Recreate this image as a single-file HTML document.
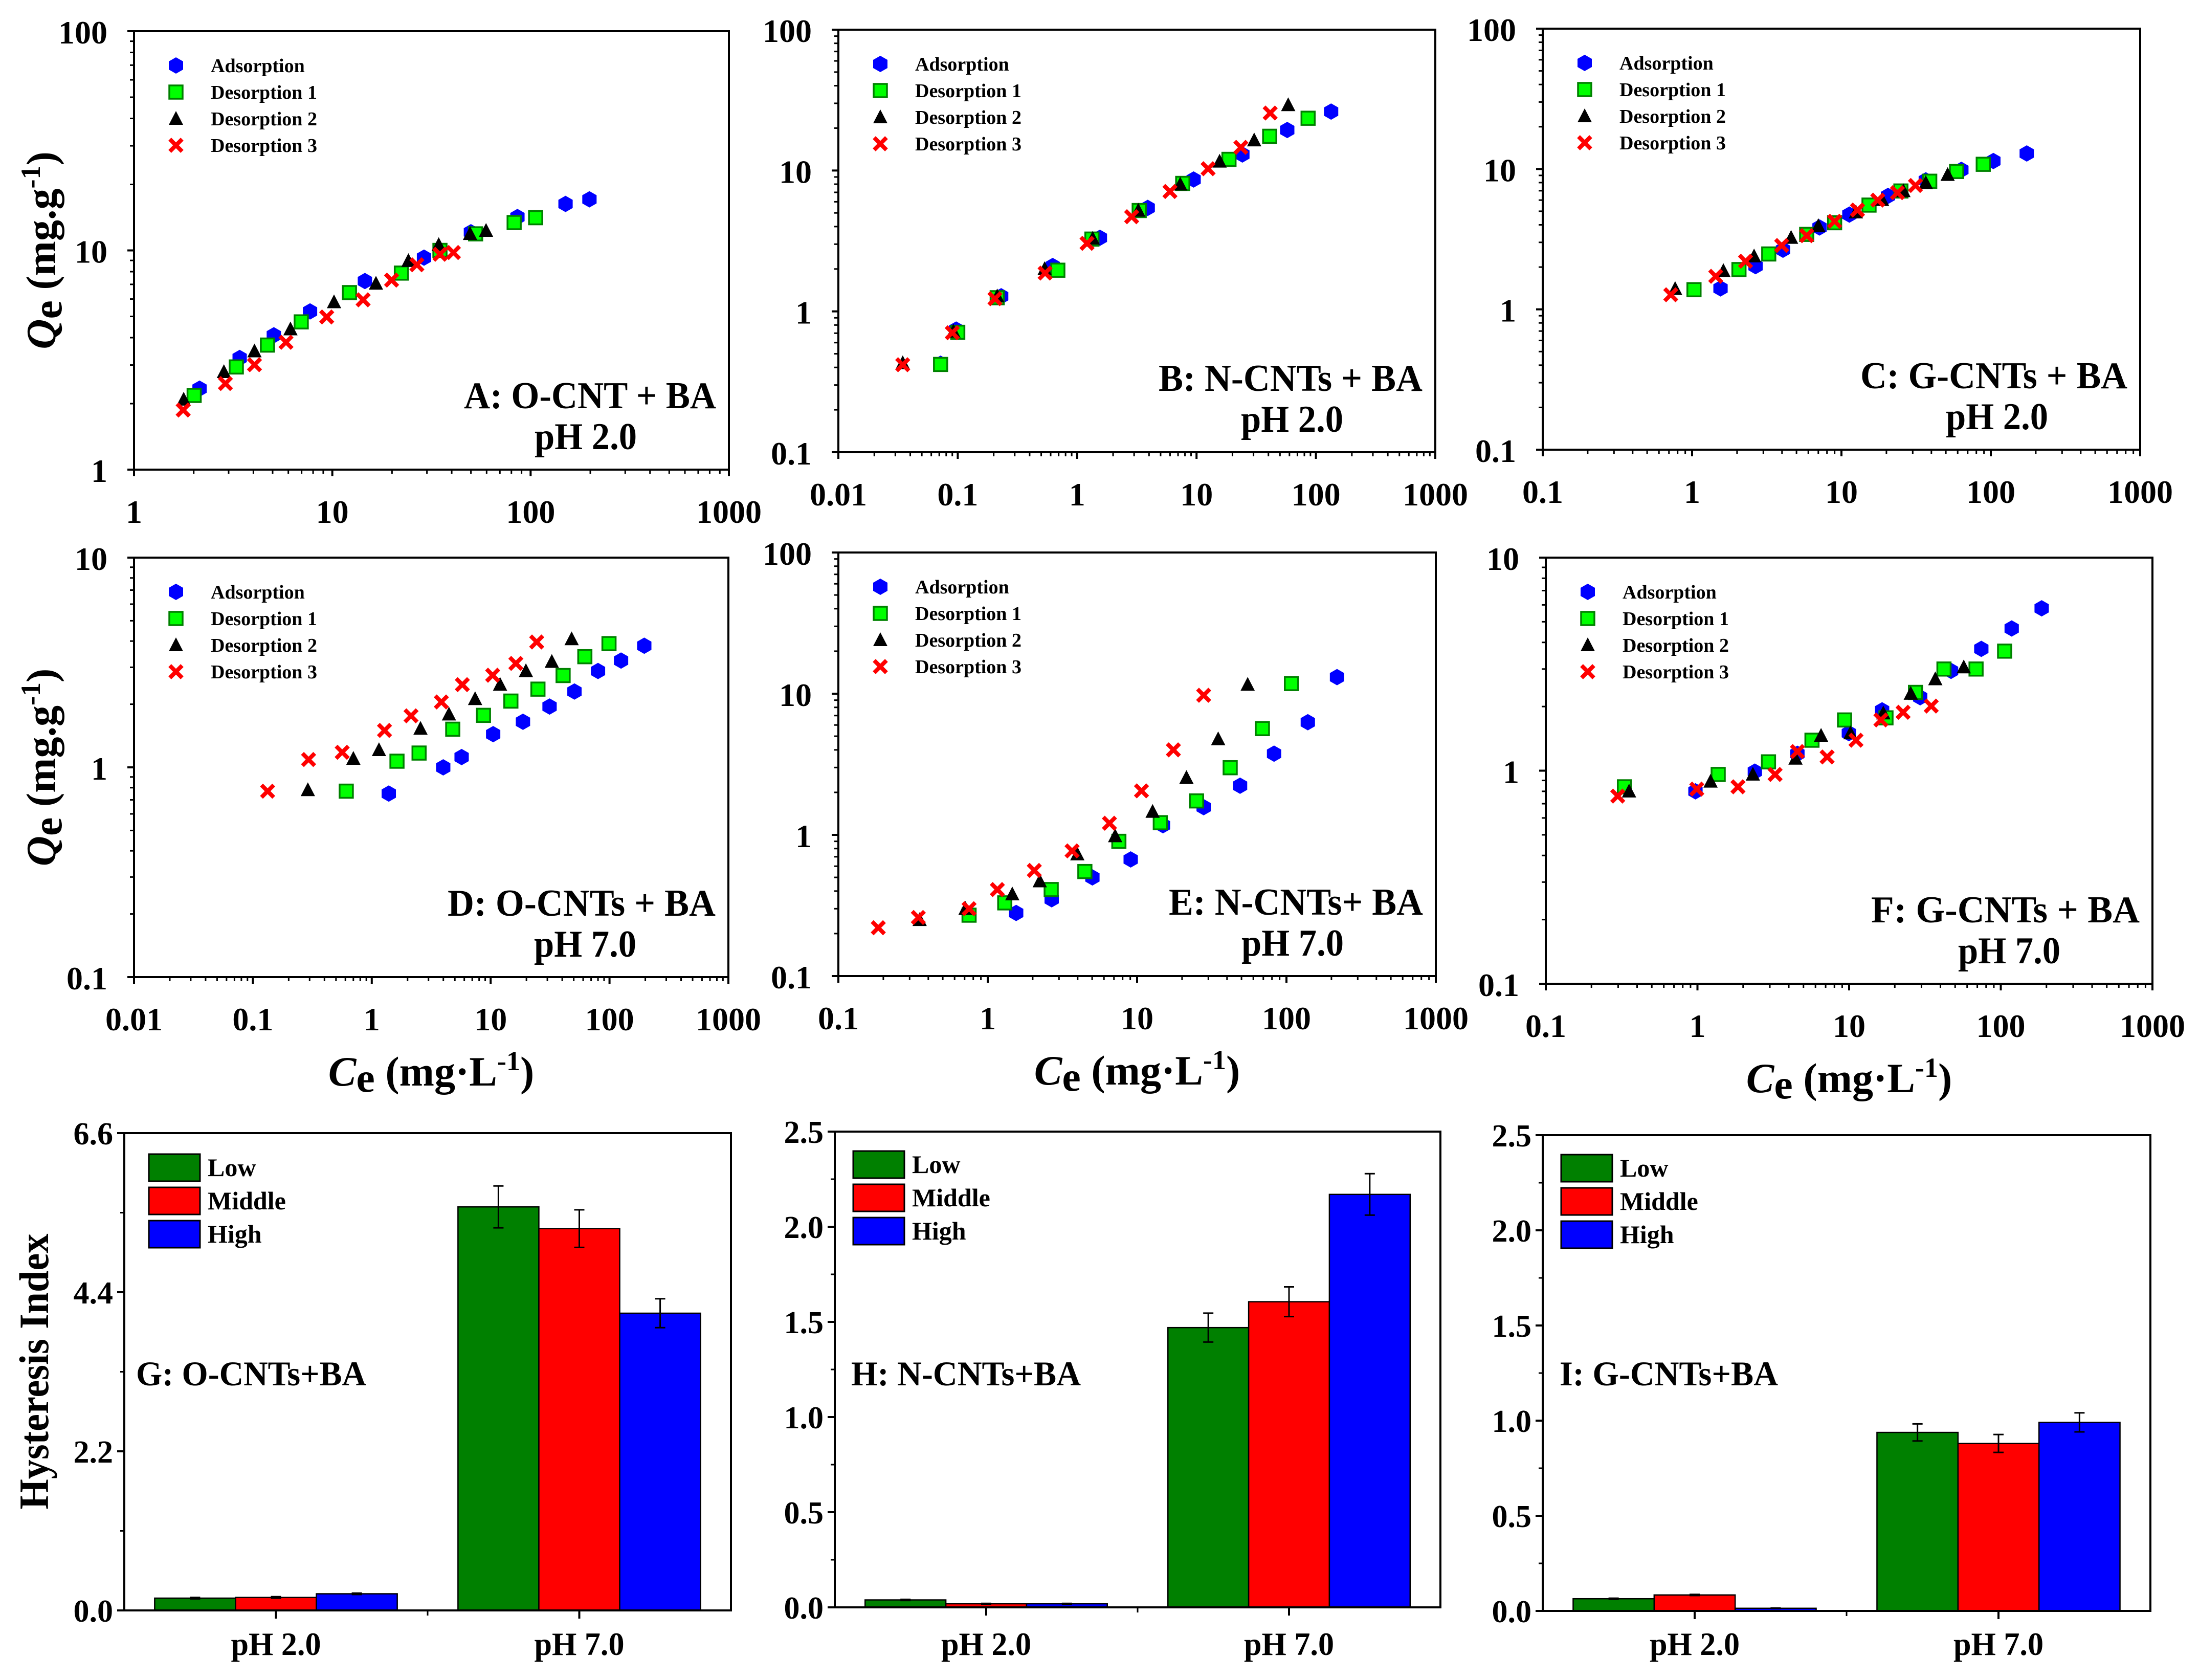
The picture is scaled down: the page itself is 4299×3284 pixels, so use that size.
<!DOCTYPE html>
<html><head><meta charset="utf-8"><title>Adsorption-desorption isotherms and hysteresis index</title>
<style>
html,body{margin:0;padding:0;background:#fff;}
svg{display:block;font-family:"Liberation Serif","Times New Roman",serif;font-weight:bold;}
</style></head>
<body>
<svg id="chart" xmlns="http://www.w3.org/2000/svg" width="4299" height="3284" viewBox="0 0 4299 3284">
<rect x="0" y="0" width="4299" height="3284" fill="#fff"/>
</svg>
<script>
// ---- Panel A: O-CNT pH 2.0 ----
const A_ads_x=[2.14,3.41,5.07,7.72,14.6,29,50,85.8,150,198];
const A_ads_y=[2.34,3.23,4.10,5.27,7.25,9.27,12.1,14.2,16.3,17.1];
const A_d1_x=[2.01,3.28,4.71,6.97,12.2,22.3,34.9,52.8,82.6,106];
const A_d1_y=[2.18,2.94,3.70,4.72,6.42,7.88,10.0,11.9,13.4,14.1];
const A_d2_x=[1.78,2.84,4.05,6.15,10.2,16.6,24.2,34.4,49.5,59.6];
const A_d2_y=[2.09,2.79,3.47,4.37,5.81,7.06,8.96,10.6,11.9,12.3];
const A_d3_x=[1.77,2.89,4.05,5.84,9.37,14.3,19.9,26.7,34.9,40.8];
const A_d3_y=[1.87,2.47,3.01,3.81,4.97,5.95,7.32,8.6,9.6,9.78];
// ---- Panel B: N-CNTs pH 2.0 ----
const B_ads_x=[0.0718,0.097,0.231,0.624,1.55,3.9,9.45,24.2,57.5,134];
const B_ads_y=[0.425,0.743,1.28,2.10,3.33,5.43,8.64,13.0,19.4,26.2];
const B_d1_x=[0.0718,0.1,0.214,0.689,1.33,3.31,7.66,18.7,41,86];
const B_d1_y=[0.42,0.71,1.25,1.96,3.26,5.2,8.1,12,17.5,23.5];
const B_d2_x=[0.0346,0.092,0.214,0.534,1.35,3.25,7.3,15.6,30.4,58.6];
const B_d2_y=[0.43,0.72,1.28,2.0,3.29,5.2,7.98,11.6,16.4,29.2];
const B_d3_x=[0.0346,0.09,0.205,0.539,1.21,2.86,5.99,12.5,23.5,41.4];
const B_d3_y=[0.418,0.705,1.23,1.87,3.04,4.7,7.1,10.3,14.6,25.6];
// ---- Panel C: G-CNTs pH 2.0 ----
const C_ads_x=[1.55,2.66,4.06,7.13,11.3,20.5,36.7,63.5,104,174];
const C_ads_y=[1.41,2.03,2.66,3.83,4.73,6.43,8.3,9.86,11.4,12.9];
const C_d1_x=[1.03,2.06,3.26,5.85,9.0,15.3,25,39,59,89];
const C_d1_y=[1.38,1.92,2.48,3.42,4.14,5.53,6.97,8.18,9.6,10.8];
const C_d2_x=[0.77,1.62,2.6,4.6,7.0,12.5,18.7,26,36.7,51.4];
const C_d2_y=[1.4,1.88,2.39,3.24,3.93,4.92,6.03,6.97,7.96,9.1];
const C_d3_x=[0.72,1.44,2.28,3.98,5.85,9.0,12.8,17.5,23.7,31.3];
const C_d3_y=[1.27,1.72,2.2,2.85,3.35,4.24,5.1,6.0,6.78,7.63];
// ---- Panel D: O-CNTs pH 7.0 ----
const D_ads_x=[1.39,3.99,5.7,10.5,18.7,31.3,50.7,80,125,196];
const D_ads_y=[0.75,1.0,1.12,1.44,1.65,1.95,2.3,2.88,3.23,3.8];
const D_d1_x=[0.61,1.63,2.5,4.8,8.7,14.8,25,40.7,62,99];
const D_d1_y=[0.77,1.07,1.17,1.52,1.77,2.07,2.36,2.74,3.37,3.89];
const D_d2_x=[0.29,0.70,1.15,2.57,4.46,7.4,12,19.8,32.7,48];
const D_d2_y=[0.78,1.1,1.21,1.53,1.79,2.12,2.48,2.88,3.19,4.09];
const D_d3_x=[0.133,0.294,0.564,1.28,2.14,3.85,5.78,10.4,16.3,24.4];
const D_d3_y=[0.77,1.09,1.18,1.5,1.76,2.05,2.48,2.75,3.13,3.96];
// ---- Panel E: N-CNTs pH 7.0 ----
const E_ads_x=[1.55,2.68,5.02,9.06,14.9,27.9,48.9,82.6,139,218];
const E_ads_y=[0.28,0.35,0.50,0.67,1.17,1.57,2.23,3.76,6.28,13.1];
const E_d1_x=[0.75,1.3,2.66,4.47,7.55,14.3,25,42,69,108];
const E_d1_y=[0.27,0.33,0.41,0.55,0.90,1.22,1.74,2.99,5.66,11.8];
const E_d2_x=[0.35,0.71,1.46,2.23,3.98,7.13,12.7,21.4,34.9,55];
const E_d2_y=[0.25,0.30,0.38,0.47,0.73,0.98,1.46,2.54,4.77,11.6];
const E_d3_x=[0.185,0.343,0.75,1.16,2.05,3.67,6.53,10.7,17.5,27.9];
const E_d3_y=[0.22,0.26,0.30,0.41,0.56,0.77,1.21,2.05,4.0,9.75];
// ---- Panel F: G-CNTs pH 7.0 ----
const F_ads_x=[0.97,2.39,4.56,9.96,16.5,29.4,47,74.4,118,186];
const F_ads_y=[0.80,0.99,1.2,1.5,1.92,2.21,2.94,3.73,4.65,5.78];
const F_d1_x=[0.33,1.37,2.94,5.69,9.33,17.5,27.4,42.2,68.7,106];
const F_d1_y=[0.84,0.96,1.10,1.39,1.73,1.77,2.33,3.0,3.0,3.64];
const F_d2_x=[0.354,1.22,2.32,4.43,6.53,10.2,16.8,25.5,37,57];
const F_d2_y=[0.80,0.89,0.96,1.14,1.46,1.5,1.86,2.3,2.69,3.06];
const F_d3_x=[0.298,0.99,1.85,3.25,4.56,7.16,11.1,16.2,22.7,34.8];
const F_d3_y=[0.76,0.82,0.84,0.96,1.23,1.16,1.39,1.73,1.88,2.01];
// ---- Bar charts ----
const barCategories=['pH 2.0','pH 7.0'];
const seriesNames=['Low','Middle','High'];
const G_low=[0.17,5.58], G_mid=[0.18,5.28], G_high=[0.23,4.11];
const G_low_err=[0.01,0.29], G_mid_err=[0.01,0.26], G_high_err=[0.01,0.2];
const G_ticks=['0.0','2.2','4.4','6.6'];
const H_low=[0.039,1.47], H_mid=[0.019,1.606], H_high=[0.019,2.17];
const H_low_err=[0.003,0.076], H_mid_err=[0.002,0.078], H_high_err=[0.002,0.109];
const H_ticks=['0.0','0.5','1.0','1.5','2.0','2.5'];
const I_low=[0.064,0.938], I_mid=[0.084,0.88], I_high=[0.014,0.991];
const I_low_err=[0.003,0.045], I_mid_err=[0.003,0.047], I_high_err=[0.001,0.05];
const I_ticks=['0.0','0.5','1.0','1.5','2.0','2.5'];
const legendNames=['Adsorption','Desorption 1','Desorption 2','Desorption 3'];

const NS='http://www.w3.org/2000/svg';
const svg=document.getElementById('chart');
function mk(tag,attrs,parent){const e=document.createElementNS(NS,tag);for(const k in attrs)e.setAttribute(k,attrs[k]);(parent||svg).appendChild(e);return e;}

function marker(g,type,x,y){
  let e;
  if(type===0){
    e=mk('polygon',{points:[[0,-16],[14,-8],[14,8],[0,16],[-14,8],[-14,-8]].map(p=>(x+p[0])+','+(y+p[1])).join(' '),fill:'#0000ff'},g);
    
  }else if(type===1){
    e=mk('rect',{x:x-13,y:y-13,width:26,height:26,fill:'#00ff00',stroke:'#008000','stroke-width':3.5},g);
    
  }else if(type===2){
    e=mk('polygon',{points:(x)+','+(y-15)+' '+(x+14)+','+(y+12)+' '+(x-14)+','+(y+12),fill:'#000'},g);
    
  }else{
    e=mk('path',{d:'M'+(x-12)+' '+(y-12)+'L'+(x+12)+' '+(y+12)+'M'+(x+12)+' '+(y-12)+'L'+(x-12)+' '+(y+12),stroke:'#ff0000','stroke-width':8,fill:'none'},g);
    
  }
  
}
function fmt(d){return d<0?Math.pow(10,d).toFixed(-d):String(Math.pow(10,d));}

function scatter(p){
  const g=mk('g',{});
  
  
  const sx=v=>p.l+(Math.log10(v)-p.x0)/(p.x1-p.x0)*(p.r-p.l);
  const sy=v=>p.b-(Math.log10(v)-p.y0)/(p.y1-p.y0)*(p.b-p.t);
  const fr=mk('rect',{x:p.l,y:p.t,width:p.r-p.l,height:p.b-p.t,fill:'none',stroke:'#000','stroke-width':4},g);
  
  
  // x ticks
  for(let d=p.x0;d<=p.x1;d++){
    const X=sx(Math.pow(10,d));
    const t=mk('line',{x1:X,x2:X,y1:p.b,y2:p.b+13,stroke:'#000','stroke-width':4},g);
    
    
    const lb=mk('text',{x:X,y:p.b+104,'text-anchor':'middle','font-size':64},g);
    lb.textContent=fmt(d);
    
    
    if(d<p.x1)for(let m=2;m<10;m++){const xm=sx(m*Math.pow(10,d));
      const tm=mk('line',{x1:xm,x2:xm,y1:p.b,y2:p.b+8,stroke:'#000','stroke-width':3},g);
      
      }
  }
  for(let d=p.y0;d<=p.y1;d++){
    const Y=sy(Math.pow(10,d));
    const t=mk('line',{x1:p.l-13,x2:p.l,y1:Y,y2:Y,stroke:'#000','stroke-width':4},g);
    
    
    const lb=mk('text',{x:p.l-52,y:Y+24,'text-anchor':'end','font-size':64},g);
    lb.textContent=fmt(d);
    
    
    if(d<p.y1)for(let m=2;m<10;m++){const ym=sy(m*Math.pow(10,d));
      const tm=mk('line',{x1:p.l-8,x2:p.l,y1:ym,y2:ym,stroke:'#000','stroke-width':3},g);
      
      }
  }
  // legend
  for(let i=0;i<4;i++){
    const ry=p.t+67+52*i;
    marker(g,i,p.l+82,ry);
    const lt=mk('text',{x:p.l+150,y:ry+13,'font-size':38},g);
    lt.textContent=legendNames[i];
    
    
  }
  // series (draw order: ads, d1, d2, d3)
  p.series.forEach((s,i)=>{for(let k=0;k<s[0].length;k++)marker(g,i,sx(s[0][k]),sy(s[1][k]));});
  const t1=mk('text',{x:p.r-25,y:p.b-120,'text-anchor':'end','font-size':74,textLength:p.lw,lengthAdjust:'spacingAndGlyphs'},g);
  t1.textContent=p.label;
  
  
  const t2=mk('text',{x:p.r-280,y:p.b-40,'text-anchor':'middle','font-size':74,textLength:200,lengthAdjust:'spacingAndGlyphs'},g);
  t2.textContent=p.ph;
  
  
  if(p.xt){
    const xt=mk('text',{x:(p.l+p.r)/2,y:p.b+212,'text-anchor':'middle','font-size':82},g);
    xt.innerHTML='<tspan font-style="italic">C</tspan><tspan dy="12">e</tspan><tspan dy="-12"> (mg·L</tspan><tspan dy="-30" font-size="54">-1</tspan><tspan dy="30">)</tspan>';
    
    
  }
  if(p.yt){
    const cy=(p.t+p.b)/2;
    const yt=mk('text',{x:0,y:0,'text-anchor':'middle','font-size':82,transform:'translate(108,'+cy+') rotate(-90)'},g);
    yt.innerHTML='<tspan font-style="italic">Q</tspan><tspan dy="12">e</tspan><tspan dy="-12"> (mg.g</tspan><tspan dy="-30" font-size="54">-1</tspan><tspan dy="30">)</tspan>';
    
    
  }
}

scatter({name:'panel-a',l:262,r:1425,t:61,b:918,x0:0,x1:3,y0:0,y1:2,series:[[A_ads_x,A_ads_y],[A_d1_x,A_d1_y],[A_d2_x,A_d2_y],[A_d3_x,A_d3_y]],label:'A: O-CNT + BA',lw:493,ph:'pH 2.0',yt:true});
scatter({name:'panel-b',l:1639,r:2806,t:58,b:884,x0:-2,x1:3,y0:-1,y1:2,series:[[B_ads_x,B_ads_y],[B_d1_x,B_d1_y],[B_d2_x,B_d2_y],[B_d3_x,B_d3_y]],label:'B: N-CNTs + BA',lw:516,ph:'pH 2.0'});
scatter({name:'panel-c',l:3016,r:4184,t:56,b:879,x0:-1,x1:3,y0:-1,y1:2,series:[[C_ads_x,C_ads_y],[C_d1_x,C_d1_y],[C_d2_x,C_d2_y],[C_d3_x,C_d3_y]],label:'C: G-CNTs + BA',lw:522,ph:'pH 2.0'});
scatter({name:'panel-d',l:262,r:1424,t:1090,b:1910,x0:-2,x1:3,y0:-1,y1:1,series:[[D_ads_x,D_ads_y],[D_d1_x,D_d1_y],[D_d2_x,D_d2_y],[D_d3_x,D_d3_y]],label:'D: O-CNTs + BA',lw:524,ph:'pH 7.0',xt:true,yt:true});
scatter({name:'panel-e',l:1639,r:2807,t:1080,b:1908,x0:-1,x1:3,y0:-1,y1:2,series:[[E_ads_x,E_ads_y],[E_d1_x,E_d1_y],[E_d2_x,E_d2_y],[E_d3_x,E_d3_y]],label:'E: N-CNTs+ BA',lw:497,ph:'pH 7.0',xt:true});
scatter({name:'panel-f',l:3022,r:4208,t:1090,b:1923,x0:-1,x1:3,y0:-1,y1:1,series:[[F_ads_x,F_ads_y],[F_d1_x,F_d1_y],[F_d2_x,F_d2_y],[F_d3_x,F_d3_y]],label:'F: G-CNTs + BA',lw:525,ph:'pH 7.0',xt:true});

function bars(p){
  const g=mk('g',{});
  
  
  const W=p.r-p.l;
  const sy=v=>p.b-v/p.ymax*(p.b-p.t);
  const colors=['#008000','#ff0000','#0000ff'];
  const vals=[p.low,p.mid,p.high], errs=[p.lowE,p.midE,p.highE];
  const bw=W*0.1333;
  // bars
  barCategories.forEach((c,i)=>{
    const cx=p.l+(i+0.5)/2*W;
    for(let j=0;j<3;j++){
      const x=cx-1.5*bw+j*bw, y=sy(vals[j][i]);
      const b=mk('rect',{x:x,y:y,width:bw,height:p.b-y,fill:colors[j],stroke:'#000','stroke-width':2.5},g);
      
      
      const ex=x+bw/2, e1=sy(vals[j][i]+errs[j][i]), e2=sy(vals[j][i]-errs[j][i]);
      const eb=mk('path',{d:'M'+ex+' '+e1+'L'+ex+' '+e2+'M'+(ex-10)+' '+e1+'L'+(ex+10)+' '+e1+'M'+(ex-10)+' '+e2+'L'+(ex+10)+' '+e2,stroke:'#000','stroke-width':3,fill:'none'},g);
      
      
    }
    const t=mk('line',{x1:cx,x2:cx,y1:p.b,y2:p.b+16,stroke:'#000','stroke-width':4},g);
    
    
    const lb=mk('text',{x:cx,y:3235,'text-anchor':'middle','font-size':64,textLength:176,lengthAdjust:'spacingAndGlyphs'},g);
    lb.textContent=c;
    
    
  });
  const tmid=mk('line',{x1:p.l+W/2,x2:p.l+W/2,y1:p.b,y2:p.b+10,stroke:'#000','stroke-width':3},g);
  
  
  const fr=mk('rect',{x:p.l,y:p.t,width:W,height:p.b-p.t,fill:'none',stroke:'#000','stroke-width':4},g);
  
  
  const n=p.ticks.length;
  for(let k=0;k<n;k++){
    const v=parseFloat(p.ticks[k]), Y=sy(v);
    const t=mk('line',{x1:p.l-14,x2:p.l,y1:Y,y2:Y,stroke:'#000','stroke-width':4},g);
    
    
    const lb=mk('text',{x:p.l-22,y:Y+22,'text-anchor':'end','font-size':62},g);
    lb.textContent=p.ticks[k];
    
    
    if(k<n-1){const vm=(v+parseFloat(p.ticks[k+1]))/2, ym=sy(vm);
      const tm=mk('line',{x1:p.l-8,x2:p.l,y1:ym,y2:ym,stroke:'#000','stroke-width':3},g);
      
      }
  }
  for(let j=0;j<3;j++){
    const ly=p.t+p.lt+j*65;
    const r=mk('rect',{x:p.l+p.ll,y:ly,width:100,height:53,fill:colors[j],stroke:'#000','stroke-width':3},g);
    
    
    const lt=mk('text',{x:p.l+p.ll+115,y:ly+43,'font-size':50},g);
    lt.textContent=seriesNames[j];
    
    
  }
  const pl=mk('text',{x:p.l+p.px,y:2708,'font-size':68,textLength:p.lw,lengthAdjust:'spacingAndGlyphs'},g);
  pl.textContent=p.label;
  
  
}
bars({name:'panel-g',l:243,r:1429,t:2215,b:3148,ymax:6.6,low:G_low,mid:G_mid,high:G_high,lowE:G_low_err,midE:G_mid_err,highE:G_high_err,ticks:G_ticks,ll:48,lt:41,px:23,lw:450,label:'G: O-CNTs+BA'});
bars({name:'panel-h',l:1632,r:2816,t:2212,b:3142,ymax:2.5,low:H_low,mid:H_mid,high:H_high,lowE:H_low_err,midE:H_mid_err,highE:H_high_err,ticks:H_ticks,ll:36,lt:38,px:32,lw:449,label:'H: N-CNTs+BA'});
bars({name:'panel-i',l:3016,r:4204,t:2219,b:3149,ymax:2.5,low:I_low,mid:I_mid,high:I_high,lowE:I_low_err,midE:I_mid_err,highE:I_high_err,ticks:I_ticks,ll:36,lt:38,px:33,lw:427,label:'I: G-CNTs+BA'});

const ht=mk('text',{x:0,y:0,'text-anchor':'middle','font-size':82,textLength:539,lengthAdjust:'spacingAndGlyphs',transform:'translate(94,2681) rotate(-90)'});
ht.textContent='Hysteresis Index';


</script>
</body></html>
